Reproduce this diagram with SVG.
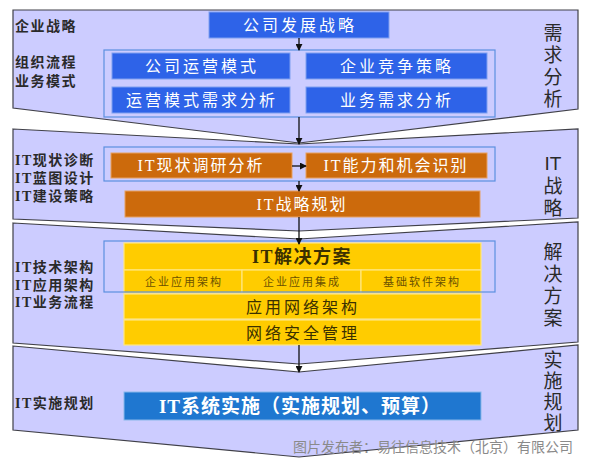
<svg xmlns="http://www.w3.org/2000/svg" width="600" height="464" viewBox="0 0 600 464">
<defs>
<marker id="ah" viewBox="0 0 8 8" refX="7" refY="4" markerWidth="7" markerHeight="7" markerUnits="userSpaceOnUse" orient="auto">
<path d="M0,0 L8,4 L0,8 Z" fill="#111"/>
</marker>
<style>
.sec{fill:#ccccff;stroke:#404048;stroke-width:1.2}
.frame{fill:none;stroke:#5b8fe0;stroke-width:1.2}
.blue{fill:#2e63e8;stroke:#7ea0f0;stroke-width:1}
.org{fill:#cc6a0c;stroke:#e8a060;stroke-width:1}
.yel{fill:#ffcc00;stroke:#ffe680;stroke-width:1.2}
.dblue{fill:#1f77d0;stroke:#8ab8ea;stroke-width:1}
.lab{font-family:"Liberation Serif","Noto Sans CJK SC",serif;font-weight:bold;font-size:14px;fill:#2a2a2a;letter-spacing:1.5px}
.side{font-family:"Noto Sans CJK SC","Liberation Sans",sans-serif;font-size:19px;fill:#2a2a2a}
.vert{writing-mode:vertical-rl;letter-spacing:3px}
.bt{font-family:"Liberation Serif","Noto Sans CJK SC",serif;font-size:16px;fill:#ffffff;text-anchor:middle;letter-spacing:3px}
.yt{font-family:"Noto Sans CJK SC",sans-serif;font-size:16px;fill:#3a3000;text-anchor:middle;letter-spacing:3px}
.st{font-family:"Noto Sans CJK SC",sans-serif;font-size:11px;fill:#6b5200;text-anchor:middle;letter-spacing:2px}
.conn{stroke:#111;stroke-width:1.3;fill:none;marker-end:url(#ah)}
</style>
</defs>
<rect width="600" height="464" fill="#ffffff"/>

<g id="sec1">
<polygon class="sec" points="13,10 578,10 578,109 299,143 13,108"/>
<text class="lab" x="15" y="31">企业战略</text>
<text class="lab" x="15" y="67">组织流程</text>
<text class="lab" x="15" y="86">业务模式</text>
<text class="side vert" x="553" y="23">需求分析</text>
</g>
<g id="n_gsfzzl">
<rect class="blue" x="209" y="12" width="180" height="26"/>
<text class="bt" x="300" y="31">公司发展战略</text>
</g>
<g id="frame1"><rect class="frame" x="104" y="50" width="391" height="67"/></g>
<g id="n_gsyymoshi">
<rect class="blue" x="112" y="53" width="178" height="26"/>
<text class="bt" x="202" y="72">公司运营模式</text>
</g>
<g id="n_qyjzcl">
<rect class="blue" x="306" y="53" width="181" height="26"/>
<text class="bt" x="397" y="72">企业竞争策略</text>
</g>
<g id="n_yymsxqfx">
<rect class="blue" x="112" y="87" width="178" height="26"/>
<text class="bt" x="202" y="106">运营模式需求分析</text>
</g>
<g id="n_ywxqfx">
<rect class="blue" x="306" y="87" width="181" height="26"/>
<text class="bt" x="397" y="106">业务需求分析</text>
</g>

<g id="sec2">
<polygon class="sec" points="13,129 299,144 578,129 578,218 299,231 13,219"/>
<text class="lab" x="15" y="165">IT现状诊断</text>
<text class="lab" x="15" y="183">IT蓝图设计</text>
<text class="lab" x="15" y="201">IT建设策略</text>
<text class="side" x="553" y="170" text-anchor="middle" style="font-family:'Liberation Sans','Noto Sans CJK SC',sans-serif">IT</text>
<text class="side vert" x="553" y="176">战略</text>
</g>
<g id="frame2"><rect class="frame" x="104" y="147" width="391" height="34"/></g>
<g id="n_itxzdyfx">
<rect class="org" x="111" y="153" width="181" height="25"/>
<text class="bt" x="201" y="171" style="letter-spacing:2px">IT现状调研分析</text>
</g>
<g id="n_itnlhjhsb">
<rect class="org" x="306" y="153" width="181" height="25"/>
<text class="bt" x="396" y="171" style="letter-spacing:2px">IT能力和机会识别</text>
</g>
<g id="n_itzlgh">
<rect class="org" x="125" y="191" width="355" height="26"/>
<text class="bt" x="302" y="210" style="letter-spacing:2px">IT战略规划</text>
</g>

<g id="sec3">
<polygon class="sec" points="13,223 299,239 578,222 578,342 299,364 13,343"/>
<text class="lab" x="15" y="272">IT技术架构</text>
<text class="lab" x="15" y="290">IT应用架构</text>
<text class="lab" x="15" y="307">IT业务流程</text>
<text class="side vert" x="553" y="242">解决方案</text>
</g>
<g id="n_itjjfa">
<rect class="yel" x="124" y="243" width="357" height="27"/>
<text class="yt" x="302" y="263" style="font-family:'Liberation Serif','Noto Sans CJK SC',serif;font-weight:bold;font-size:18px;letter-spacing:1.5px">IT解决方案</text>
</g>
<g id="n_qyyyjg">
<rect class="yel" x="124" y="270" width="118" height="23"/>
<text class="st" x="184" y="286">企业应用架构</text>
</g>
<g id="n_qyyyjc">
<rect class="yel" x="242" y="270" width="119" height="23"/>
<text class="st" x="302" y="286">企业应用集成</text>
</g>
<g id="n_jcrjjg">
<rect class="yel" x="361" y="270" width="120" height="23"/>
<text class="st" x="422" y="286">基础软件架构</text>
</g>
<g id="frame3"><rect class="frame" x="104" y="241" width="391" height="51"/></g>
<g id="n_yywljg">
<rect class="yel" x="124" y="294" width="357" height="25"/>
<text class="yt" x="303" y="313">应用网络架构</text>
</g>
<g id="n_wlaqgl">
<rect class="yel" x="124" y="320" width="357" height="25"/>
<text class="yt" x="303" y="339">网络安全管理</text>
</g>

<g id="sec4">
<polygon class="sec" points="13,346 299,372 578,345 578,430 299,457 13,430"/>
<text class="lab" x="15" y="408">IT实施规划</text>
<text class="side vert" x="553" y="350" style="letter-spacing:2px">实施规划</text>
</g>
<g id="n_itxtss">
<rect class="dblue" x="124" y="392" width="357" height="28"/>
<text class="bt" x="300" y="413" style="font-weight:bold;font-size:19px;letter-spacing:1px">IT系统实施（实施规划、预算）</text>
</g>

<g id="connectors">
<line class="conn" x1="299" y1="38" x2="299" y2="50"/>
<line class="conn" x1="299" y1="117" x2="299" y2="144"/>
<line class="conn" x1="292" y1="166" x2="306" y2="166"/>
<line class="conn" x1="299" y1="181" x2="299" y2="191"/>
<line class="conn" x1="299" y1="217" x2="299" y2="244"/>
<line class="conn" x1="299" y1="345" x2="299" y2="372"/>
</g>

<text x="293" y="452" style="font-family:'Noto Sans CJK SC',sans-serif;font-size:14px;fill:#8a8a8a">图片发布者：易往信息技术（北京）有限公司</text>
</svg>
